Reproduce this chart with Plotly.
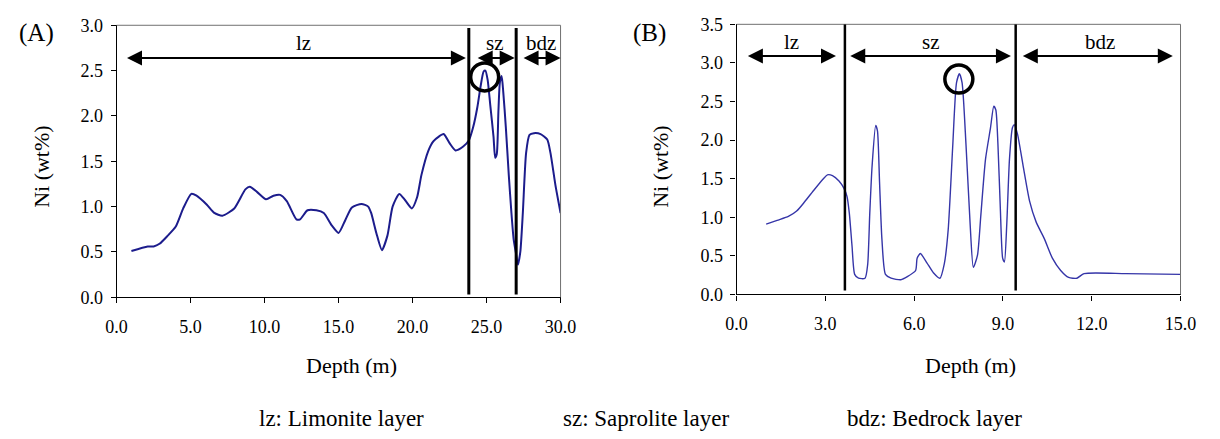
import plotly.graph_objects as go

# ---------------- data ----------------
# Panel A
depth_a = [1.0, 2.1, 2.5, 2.9, 3.4, 4.0, 4.5, 5.05, 5.4, 6.1, 6.6, 7.15, 7.95, 8.7, 9.0, 9.5,
           10.1, 10.6, 11.05, 11.5, 12.15, 12.4, 12.9, 13.5, 14.0, 14.55, 15.0, 15.45, 15.9,
           16.55, 17.0, 17.2, 17.55, 17.93, 18.3, 18.65, 19.1, 19.5, 19.95, 20.3, 20.6, 21.05,
           21.4, 21.75, 22.1, 22.5, 22.9, 23.4, 23.8, 24.1, 24.37, 24.6, 24.8, 24.92, 25.07,
           25.25, 25.47, 25.58, 25.69, 25.8, 25.9, 26.02, 26.13, 26.3, 26.5, 26.68, 26.83,
           26.97, 27.12, 27.28, 27.45, 27.67, 27.9, 28.2, 28.65, 29.1, 29.32, 29.65, 30.0]
ni_a = [0.51, 0.56, 0.56, 0.59, 0.67, 0.78, 0.98, 1.14, 1.12, 1.02, 0.93, 0.90, 0.98, 1.19, 1.22,
        1.16, 1.08, 1.12, 1.13, 1.06, 0.86, 0.86, 0.96, 0.96, 0.93, 0.79, 0.71, 0.85, 0.99, 1.03,
        1.0, 0.93, 0.71, 0.52, 0.68, 1.0, 1.14, 1.07, 0.98, 1.10, 1.35, 1.61, 1.72, 1.77, 1.80,
        1.70, 1.62, 1.66, 1.73, 1.88, 2.09, 2.33, 2.49, 2.50, 2.40, 2.12, 1.77, 1.54, 1.58, 2.05,
        2.37, 2.44, 2.26, 1.88, 1.35, 0.93, 0.64, 0.50, 0.36, 0.50, 0.93, 1.59, 1.79, 1.81, 1.80,
        1.74, 1.59, 1.24, 0.93]
bounds_a = [23.8, 27.0]                       # layer boundaries (m)
zones_a = [(0.6, 23.6), (24.3, 26.9), (27.4, 30.0)]  # arrow extents
zone_labels = ["lz", "sz", "bdz"]
zone_label_x_a = [12.6, 25.6, 28.7]
peak_a = (24.87, 2.43)

# Panel B
depth_b = [1.0, 1.37, 1.75, 2.03, 2.3, 2.63, 2.91, 3.07, 3.24, 3.46, 3.62, 3.73, 3.81, 3.90, 3.99,
           4.12, 4.34, 4.43, 4.50, 4.58, 4.70, 4.76, 4.83, 4.91, 5.03, 5.22, 5.55, 5.77, 6.05,
           6.10, 6.21, 6.43, 6.65, 6.87, 7.02, 7.15, 7.30, 7.43, 7.53, 7.62, 7.75, 7.89, 8.0,
           8.14, 8.25, 8.41, 8.58, 8.69, 8.76, 8.83, 8.91, 8.99, 9.05, 9.13, 9.22, 9.32, 9.38,
           9.49, 9.68, 9.90, 10.12, 10.40, 10.67, 10.95, 11.22, 11.5, 11.74, 13.15, 15.0]
ni_b = [0.91, 0.96, 1.01, 1.08, 1.20, 1.36, 1.49, 1.55, 1.54, 1.47, 1.38, 1.27, 1.05, 0.63, 0.26,
        0.21, 0.21, 0.39, 1.05, 1.67, 2.19, 2.12, 1.46, 0.72, 0.26, 0.21, 0.19, 0.23, 0.31, 0.47,
        0.53, 0.41, 0.28, 0.21, 0.40, 0.84, 1.90, 2.74, 2.86, 2.74, 1.95, 0.92, 0.35, 0.51, 1.01,
        1.75, 2.16, 2.44, 2.39, 1.95, 1.13, 0.47, 0.42, 0.92, 1.75, 2.16, 2.20, 2.08, 1.67, 1.21,
        0.94, 0.72, 0.47, 0.31, 0.22, 0.21, 0.27, 0.27, 0.26]
bounds_b = [3.66, 9.43]
zones_b = [(0.33, 3.36), (3.79, 9.27), (9.62, 14.74)]
zone_label_x_b = [1.85, 6.58, 12.27]
peak_b = (7.51, 2.79)

legend_texts = ["lz: Limonite layer", "sz: Saprolite layer", "bdz: Bedrock layer"]

# ---------------- figure ----------------
W, H = 1220, 439
FONT = "'Liberation Serif', 'Times New Roman', 'DejaVu Serif', serif"

def px(x):
    return x / W

def py(y):
    return 1 - y / H

fig = go.Figure()
fig.add_trace(go.Scatter(x=depth_a, y=ni_a, mode="lines", xaxis="x", yaxis="y",
                         line=dict(color="#1c1c8c", width=2, shape="spline", smoothing=0.6),
                         showlegend=False, hoverinfo="skip"))
fig.add_trace(go.Scatter(x=depth_b, y=ni_b, mode="lines", xaxis="x2", yaxis="y2",
                         line=dict(color="#3535a8", width=1.4, shape="spline", smoothing=0.6),
                         showlegend=False, hoverinfo="skip"))

axis_common = dict(showgrid=False, zeroline=False, showline=True, linecolor="black", linewidth=1.2,
                   ticks="outside", ticklen=5, tickwidth=1.2, tickcolor="black",
                   tickfont=dict(family=FONT, size=18, color="black"), tickformat=".1f")

fig.update_layout(
    width=W, height=H, autosize=False, margin=dict(l=0, r=0, t=0, b=0),
    paper_bgcolor="white", plot_bgcolor="white",
    font=dict(family=FONT, color="black"),
    xaxis=dict(domain=[px(108), px(562)], range=[0, 30], dtick=5, tick0=0, anchor="y",
               ticklabelstandoff=8, **axis_common),
    yaxis=dict(domain=[py(301), py(16)], range=[0, 3], dtick=0.5, tick0=0, anchor="x",
               ticklabelstandoff=4, **axis_common),
    xaxis2=dict(domain=[px(742), px(1196)], range=[0, 15], dtick=3, tick0=0, anchor="y2",
                ticklabelstandoff=8, **axis_common),
    yaxis2=dict(domain=[py(298), py(15)], range=[0, 3.5], dtick=0.5, tick0=0, anchor="x2",
                ticklabelstandoff=4, **axis_common),
)

shapes = []
anns = []
for xa, ya in (("x", "y"), ("x2", "y2")):
    # gray top and right frame
    shapes.append(dict(type="line", xref=f"{xa} domain", yref=f"{ya} domain",
                       x0=0, x1=1, y0=1, y1=1, line=dict(color="#707070", width=1)))
    shapes.append(dict(type="line", xref=f"{xa} domain", yref=f"{ya} domain",
                       x0=1, x1=1, y0=0, y1=1, line=dict(color="#707070", width=1)))

panels = [
    ("x", "y", bounds_a, zones_a, zone_label_x_a, peak_a, 2.64, 2.80, (0.03, 2.97), 3),
    ("x2", "y2", bounds_b, zones_b, zone_label_x_b, peak_b, 3.09, 3.27, (0.05, 3.5), 2.5),
]
for xa, ya, bounds, zones, lab_x, peak, arrow_y, lab_y, vspan, vw in panels:
    for b in bounds:
        shapes.append(dict(type="line", xref=xa, yref=ya, x0=b, x1=b, y0=vspan[0], y1=vspan[1],
                           line=dict(color="black", width=vw)))
    for (z0, z1) in zones:
        anns.append(dict(xref=xa, yref=ya, axref=xa, ayref=ya, x=z1, y=arrow_y, ax=z0, ay=arrow_y,
                         text="", showarrow=True, arrowhead=2, startarrowhead=2,
                         arrowside="end+start", arrowsize=1.5, startarrowsize=1.5,
                         arrowwidth=2, arrowcolor="black"))
    for lx, lt in zip(lab_x, zone_labels):
        anns.append(dict(xref=xa, yref=ya, x=lx, y=lab_y, text=lt, showarrow=False,
                         font=dict(family=FONT, size=21, color="black")))
    shapes.append(dict(type="circle", xref=xa, yref=ya, xsizemode="pixel", ysizemode="pixel",
                       xanchor=peak[0], yanchor=peak[1], x0=-14, x1=14, y0=-14, y1=14,
                       line=dict(color="black", width=3.5)))

def paper_text(x, y, text, size, angle=0):
    anns.append(dict(xref="paper", yref="paper", x=px(x), y=py(y), text=text, showarrow=False,
                     textangle=angle, xanchor="center", yanchor="middle",
                     font=dict(family=FONT, size=size, color="black")))

paper_text(26, 24, "(A)", 25)
paper_text(653, 24, "(B)", 25)
paper_text(31, 164, "Ni (wt%)", 22, -90)
paper_text(664, 164, "Ni (wt%)", 22, -90)
paper_text(348, 372, "Depth (m)", 22)
paper_text(981, 372, "Depth (m)", 22)
for xc, t in zip([338, 649, 944], legend_texts):
    paper_text(xc, 428, t, 23)

fig.update_layout(shapes=shapes, annotations=anns)
fig.write_html("out.html")
